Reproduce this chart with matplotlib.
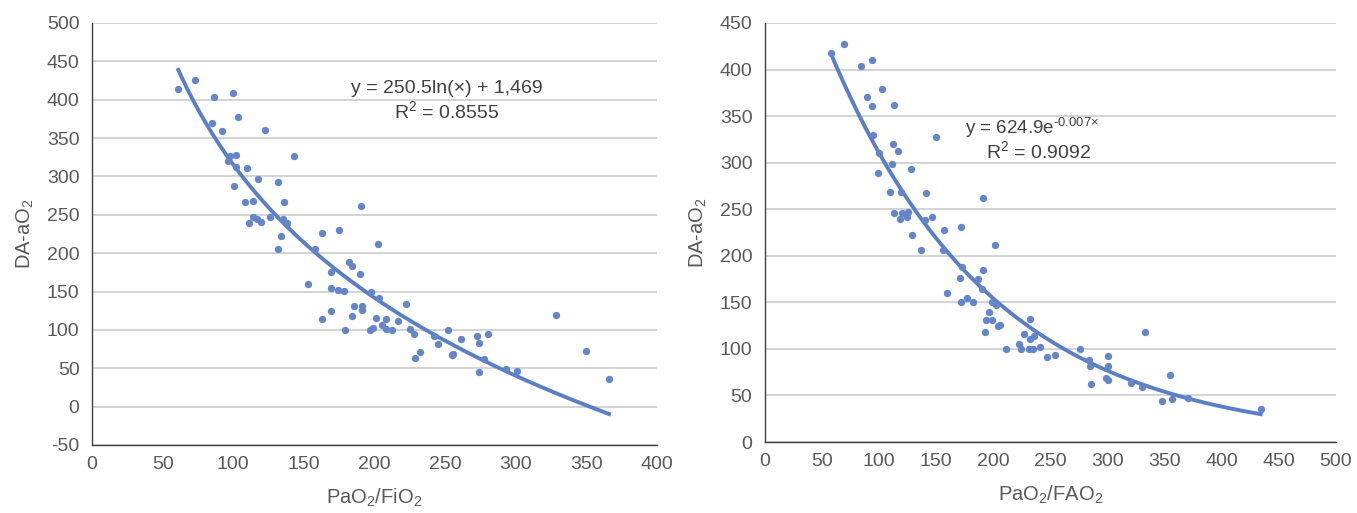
import numpy as np
import matplotlib
matplotlib.use("Agg")
import matplotlib.pyplot as plt

plt.rcParams['font.family'] = ['Liberation Sans', 'DejaVu Sans']
plt.rcParams['mathtext.default'] = 'regular'
plt.rcParams['axes.unicode_minus'] = False

# left panel: DA-aO2 vs PaO2/FiO2
pf_x = [61.1, 72.7, 86.4, 99.8, 103.6, 85.2, 92.2, 122.5, 143.0, 97.7,
        101.9, 96.5, 101.7, 109.5, 100.5, 117.5, 131.5, 108.5, 113.8, 136.1,
        114.2, 116.6, 119.4, 111.2, 126.0, 135.0, 137.8, 133.6, 131.9, 158.1,
        163.0, 174.6, 190.2, 202.7, 152.9, 169.5, 169.5, 169.0, 162.7, 182.2,
        184.1, 189.5, 174.4, 178.4, 179.1, 184.1, 185.3, 191.4, 191.4, 197.3,
        203.4, 222.1, 200.8, 208.1, 205.5, 197.0, 198.9, 208.4, 212.2, 216.6,
        225.1, 228.0, 228.9, 232.0, 241.9, 244.7, 252.3, 261.0, 255.1, 255.8,
        272.8, 274.0, 274.2, 280.1, 277.3, 293.3, 301.1, 328.7, 349.5, 366.0]
pf_y = [414.6, 425.4, 403.5, 408.1, 377.2, 369.0, 359.5, 361.1, 326.0, 326.3,
        327.6, 319.8, 312.0, 311.2, 287.2, 297.3, 292.4, 266.9, 268.6, 266.9,
        247.3, 245.1, 240.8, 239.0, 246.8, 245.1, 239.5, 223.0, 205.6, 205.6,
        226.8, 230.4, 261.2, 211.6, 160.4, 175.6, 155.0, 125.2, 114.1, 188.1,
        183.8, 173.4, 151.6, 150.3, 100.4, 118.6, 131.7, 130.8, 125.6, 149.5,
        141.7, 133.4, 115.1, 114.7, 106.0, 100.4, 103.0, 101.3, 100.4, 111.7,
        101.7, 94.8, 63.0, 71.3, 92.6, 81.7, 99.5, 88.3, 67.4, 68.7,
        92.6, 83.0, 45.0, 94.8, 62.6, 49.5, 46.5, 119.0, 72.1, 36.5]

# right panel: DA-aO2 vs PaO2/FAO2
pa_x = [58.1, 68.9, 84.1, 94.0, 102.5, 89.3, 93.7, 112.7, 94.8, 149.5,
        112.3, 116.2, 99.8, 111.2, 98.9, 127.8, 109.7, 119.1, 141.0, 112.7,
        120.0, 125.5, 118.0, 124.3, 139.8, 146.0, 156.7, 171.4, 128.7, 136.3,
        190.6, 156.1, 201.1, 172.8, 171.0, 191.2, 186.8, 190.3, 159.1, 171.6,
        177.1, 182.1, 198.8, 202.0, 196.4, 193.5, 198.8, 203.8, 205.8, 192.4,
        231.8, 227.1, 231.8, 235.5, 211.0, 222.2, 223.9, 230.9, 234.4, 241.1,
        246.7, 253.7, 275.8, 283.5, 284.6, 300.4, 300.4, 285.2, 298.6, 300.4,
        332.5, 320.2, 330.1, 354.9, 347.6, 356.1, 370.1, 434.1]
pa_y = [417.5, 427.2, 404.3, 410.3, 379.2, 370.2, 360.6, 362.3, 329.4, 327.6,
        320.1, 312.6, 310.7, 298.3, 289.3, 293.2, 268.8, 268.2, 267.8, 246.3,
        246.3, 247.4, 239.5, 241.7, 238.1, 241.7, 227.7, 230.6, 222.3, 206.2,
        262.1, 206.2, 211.9, 188.3, 176.5, 184.7, 174.8, 164.3, 160.0, 150.4,
        154.7, 150.4, 150.7, 147.2, 140.0, 131.0, 131.0, 124.6, 125.7, 117.8,
        132.1, 115.7, 110.6, 114.2, 99.9, 104.9, 99.9, 99.9, 99.9, 102.0,
        91.3, 93.1, 99.9, 87.8, 82.0, 92.4, 82.0, 62.6, 68.4, 66.6,
        117.8, 63.7, 59.4, 72.0, 44.4, 46.5, 46.9, 35.8]

dot_color = '#6486c8'
line_color = '#5b7fc4'
text_color = '#595959'

fig = plt.figure(figsize=(13.57, 5.13), dpi=100)
ax1 = fig.add_axes([0.0678, 0.1326, 0.4164, 0.8226])
ax2 = fig.add_axes([0.5637, 0.1384, 0.4208, 0.8168])


def style(ax, xmax, ymin, ymax, xlab):
    ax.set_xlim(0, xmax)
    ax.set_ylim(ymin, ymax)
    ax.set_xticks(np.arange(0, xmax + 1, 50))
    ax.set_yticks(np.arange(ymin, ymax + 1, 50))
    ax.grid(axis='y', color='#d0d0d0', linewidth=1.3, zorder=0)
    ax.set_axisbelow(True)
    for s in ['top', 'right']:
        ax.spines[s].set_visible(False)
    for s in ['left', 'bottom']:
        ax.spines[s].set_color('#404040')
        ax.spines[s].set_linewidth(1.0)
    ax.tick_params(axis='both', length=0, labelsize=14, colors=text_color)
    ax.tick_params(axis='y', pad=9)
    ax.tick_params(axis='x', pad=8)
    ax.set_xlabel(xlab, fontsize=14.5, color=text_color, labelpad=10)
    ax.set_ylabel('DA-aO$_2$', fontsize=14.5, color=text_color, labelpad=8)


style(ax1, 400, -50, 500, 'PaO$_2$/FiO$_2$')
style(ax2, 500, 0, 450, 'PaO$_2$/FAO$_2$')

ax1.scatter(pf_x, pf_y, s=28, color=dot_color, zorder=3, linewidths=0)
xx = np.linspace(min(pf_x), max(pf_x), 200)
ax1.plot(xx, -250.5 * np.log(xx) + 1469, color=line_color, lw=2.8, zorder=2)
ax1.text(251, 414, 'y = 250.5ln(×) + 1,469', ha='center', va='center',
         fontsize=14, color='#404040')
ax1.text(251, 385, 'R$^2$ = 0.8555', ha='center', va='center',
         fontsize=14, color='#404040')

ax2.scatter(pa_x, pa_y, s=28, color=dot_color, zorder=3, linewidths=0)
xx2 = np.linspace(min(pa_x), max(pa_x), 200)
ax2.plot(xx2, 624.9 * np.exp(-0.007 * xx2), color=line_color, lw=2.8, zorder=2)
ax2.text(234, 337, 'y = 624.9e$^{\u20100.007×}$', ha='center', va='center',
         fontsize=13.5, color='#404040')
ax2.text(240, 312, 'R$^2$ = 0.9092', ha='center', va='center',
         fontsize=14, color='#404040')

fig.savefig('out.png', dpi=100)
